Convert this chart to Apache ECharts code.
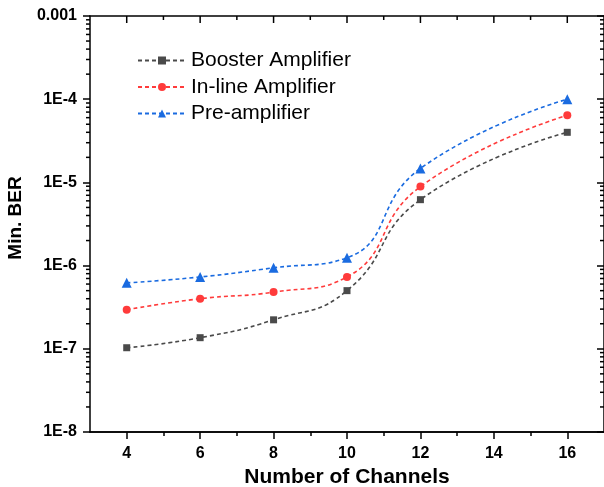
<!DOCTYPE html>
<html>
<head>
<meta charset="utf-8">
<script src="https://cdn.jsdelivr.net/npm/echarts@6/dist/echarts.min.js"></script>
<style>
  html, body { margin: 0; padding: 0; background: #fff; }
  #app { width: 604px; height: 487px; }
</style>
</head>
<body>
<div id="app"></div>
<script>
const channels = [4, 6, 8, 10, 12, 16]
const booster = [1.03e-7, 1.36e-7, 2.23e-7, 5.0e-7, 6.2e-6, 4.0e-5]
const inline = [2.95e-7, 4.0e-7, 4.8e-7, 7.3e-7, 8.9e-6, 6.4e-5]
const preamp = [6.2e-7, 7.3e-7, 9.4e-7, 1.24e-6, 1.47e-5, 1.0e-4]

const xMajor = [4, 6, 8, 10, 12, 14, 16]
const xMinor = [5, 7, 9, 11, 13, 15]
const yDecades = [1e-8, 1e-7, 1e-6, 1e-5, 1e-4, 1e-3]
// minor log ticks 2..9 in each decade
const yMinor = []
yDecades.slice(0, -1).forEach((d) => {
  for (let k = 2; k <= 9; k++) yMinor.push(d * k)
})

const font = 'Liberation Sans, Arial, sans-serif'
const black = '#000'

function pairs(ys) {
  return channels.map((x, i) => [x, ys[i]])
}

function lineStyle() {
  return { show: true, lineStyle: { color: black, width: 1.5 } }
}

function tickStyle(ticks, len, inside) {
  return { show: true, inside, length: len, customValues: ticks, lineStyle: { color: black, width: 1.5 } }
}

const myChart = echarts.init(document.getElementById('app'))
myChart.setOption({
  animation: false,
  textStyle: { fontFamily: font },
  grid: { left: 90, right: 0, top: 16, bottom: 55, outerBoundsMode: 'none', containLabel: false },
  legend: {
    orient: 'vertical',
    left: 132,
    top: 45,
    itemWidth: 48,
    itemHeight: 10,
    itemGap: 5.5,
    textStyle: { fontSize: 21, color: black, fontFamily: font },
    data: ['Booster Amplifier', 'In-line Amplifier', 'Pre-amplifier'],
  },
  xAxis: [
    {
      type: 'value',
      position: 'bottom',
      min: 3,
      max: 17,
      name: 'Number of Channels',
      nameLocation: 'middle',
      nameGap: 34,
      nameTextStyle: { fontSize: 21, fontWeight: 'bold', color: black },
      axisLine: lineStyle(),
      axisTick: tickStyle(xMajor, 7, false),
      axisLabel: { show: true, customValues: xMajor, margin: 14, fontSize: 16, fontWeight: 'bold', color: black },
      splitLine: { show: false },
    },
    {
      type: 'value',
      position: 'bottom',
      min: 3,
      max: 17,
      axisLine: lineStyle(),
      axisTick: tickStyle(xMinor, 4, false),
      axisLabel: { show: false },
      splitLine: { show: false },
    },
    {
      type: 'value',
      position: 'top',
      min: 3,
      max: 17,
      axisLine: lineStyle(),
      axisTick: { show: false },
      axisLabel: { show: false },
      splitLine: { show: false },
    },
  ],
  yAxis: [
    {
      type: 'log',
      position: 'left',
      min: 1e-8,
      max: 1e-3,
      name: 'Min. BER',
      nameLocation: 'middle',
      nameGap: 65,
      nameTextStyle: { fontSize: 19, fontWeight: 'bold', color: black, padding: [0, 0, 0, 12] },
      axisLine: lineStyle(),
      axisTick: tickStyle(yDecades, 7, false),
      axisLabel: {
        show: true,
        customValues: yDecades,
        margin: 13,
        fontSize: 16,
        fontWeight: 'bold',
        color: black,
        formatter(v) {
          const e = Math.round(Math.log10(v))
          return e === -3 ? '0.001' : '1E' + e
        },
      },
      splitLine: { show: false },
    },
    {
      type: 'log',
      position: 'right',
      min: 1e-8,
      max: 1e-3,
      axisLine: lineStyle(),
      axisTick: tickStyle(yDecades, 7, true),
      axisLabel: { show: false },
      splitLine: { show: false },
    },
  ],
  series: [
    {
      name: 'Booster Amplifier',
      type: 'line',
      smooth: 0.5,
      symbol: 'rect',
      symbolSize: 7,
      itemStyle: { color: '#4a4a4a' },
      lineStyle: { color: '#4a4a4a', width: 1.6, type: [4, 3] },
      data: pairs(booster),
    },
    {
      name: 'In-line Amplifier',
      type: 'line',
      smooth: 0.5,
      symbol: 'circle',
      symbolSize: 8,
      itemStyle: { color: '#ff3b3b' },
      lineStyle: { color: '#ff3b3b', width: 1.6, type: [4, 3] },
      data: pairs(inline),
    },
    {
      name: 'Pre-amplifier',
      type: 'line',
      smooth: 0.5,
      symbol: 'triangle',
      symbolSize: 10,
      itemStyle: { color: '#1a6be0' },
      lineStyle: { color: '#1a6be0', width: 1.6, type: [4, 3] },
      data: pairs(preamp),
    },
  ],
})

// top ticks and log minor ticks, placed through the grid's coordinate system
function toPx(x, y) {
  const p = myChart.convertToPixel({ gridIndex: 0 }, [x, y])
  return p || [NaN, NaN]
}
const plotLeft = toPx(3, 1e-5)[0]
const plotRight = toPx(17, 1e-5)[0]
const plotTop = toPx(4, 1e-3)[1]
const tick = (x1, y1, x2, y2) => ({
  type: 'line',
  silent: true,
  z: 10,
  shape: { x1, y1, x2, y2 },
  style: { stroke: black, lineWidth: 1.5 },
})
const marks = []
xMajor.forEach((v) => {
  const x = toPx(v, 1e-5)[0]
  marks.push(tick(x, plotTop, x, plotTop + 7))
})
xMinor.forEach((v) => {
  const x = toPx(v, 1e-5)[0]
  marks.push(tick(x, plotTop, x, plotTop + 4))
})
yMinor.forEach((v) => {
  const y = toPx(4, v)[1]
  marks.push(tick(plotLeft - 4, y, plotLeft, y))
  marks.push(tick(plotRight - 4, y, plotRight, y))
})
myChart.setOption({ graphic: { elements: marks.filter(m => isFinite(m.shape.x1) && isFinite(m.shape.y1)) } })
</script>
</body>
</html>
